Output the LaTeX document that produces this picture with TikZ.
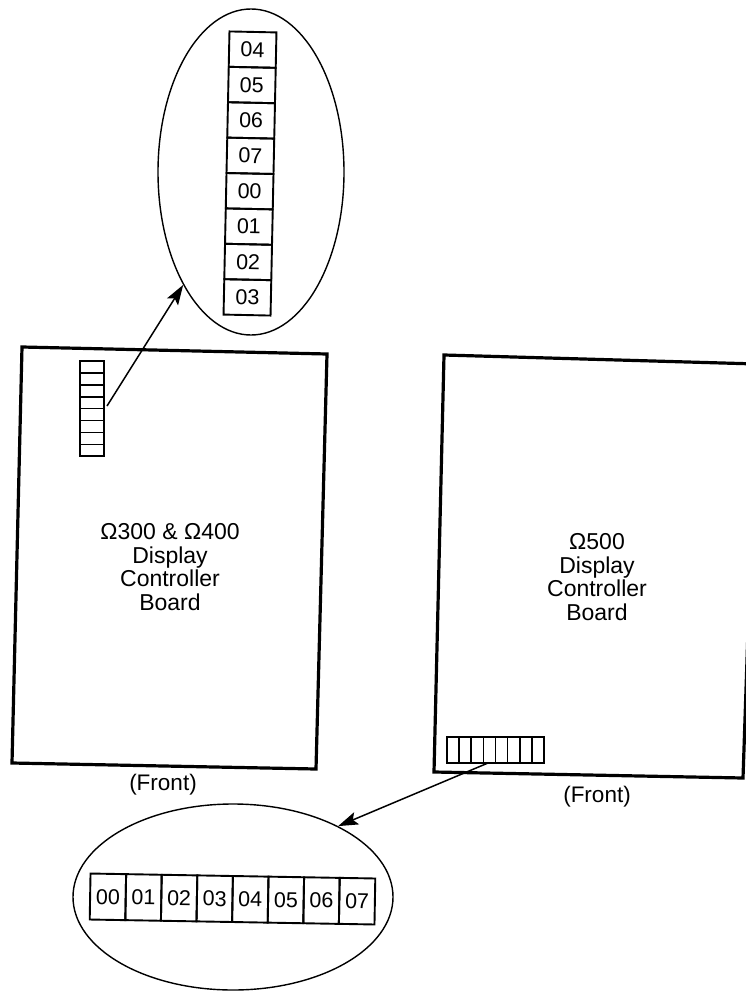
\documentclass[tikz,border=0pt]{standalone}
\usepackage{fontspec}
\setmainfont{Liberation Sans}
\usetikzlibrary{arrows.meta,shapes.geometric}
\begin{document}
\begin{tikzpicture}[x=1pt,y=-1pt,
  board/.style={line width=3.2pt, line join=miter},
  bigcell/.style={draw, line width=1.9pt, inner sep=0pt, font=\fontsize{21.5}{23}\selectfont},
  vcell/.style={bigcell, minimum width=47pt, minimum height=35.4pt},
  hcell/.style={bigcell, minimum width=35.6pt, minimum height=46pt},
  smallv/.style={draw, line width=1.6pt, inner sep=0pt, minimum width=24pt, minimum height=11.9pt},
  smallh/.style={draw, line width=1.6pt, inner sep=0pt, minimum width=12.1pt, minimum height=26pt},
  zoomell/.style={draw, ellipse, line width=1.4pt, inner sep=0pt},
  boardtext/.style={align=center, font=\fontsize{23}{23.5}\selectfont},
  fronttext/.style={font=\fontsize{22.5}{24}\selectfont},
  pointer/.style={line width=1.5pt, -{Stealth[length=20pt,width=13pt,inset=4pt]}}
]
\useasboundingbox (0,0) rectangle (746,992);
\clip (0,0) rectangle (746,992);
\fill[white] (0,0) rectangle (746,992);

% boards
\draw[board] (22,347) -- (327,354) -- (316,769) -- (12,763) -- cycle;
\draw[board] (444,355) -- (757,364) -- (743,778) -- (434,772) -- cycle;

\node[boardtext] (lbtext) at (170,567) {Ω300 \& Ω400\\Display\\Controller\\Board};
\node[boardtext] (rbtext) at (597,577) {Ω500\\Display\\Controller\\Board};
\node[fronttext] (lfront) at (163,785) {(Front)};
\node[fronttext] (rfront) at (597,797) {(Front)};

% small switches on boards
\foreach \k in {0,...,7}
  \node[smallv] (ls\k) at (92,{367+\k*11.9}) {};
\foreach \k in {0,...,7}
  \node[smallh] (rs\k) at ({453.05+\k*12.12},750) {};

% zoom ellipses
\node[zoomell, minimum width=186pt, minimum height=326pt] (topell) at (251,172) {};
\node[zoomell, minimum width=320pt, minimum height=186pt] (botell) at (233,897) {};

% enlarged vertical switch
\begin{scope}[shift={(250,173.5)}, rotate=-1.2, transform shape]
  \foreach \lab [count=\k from 0] in {04,05,06,07,00,01,02,03}
    \node[vcell] (tc\k) at (0,{(\k-3.5)*35.4}) {\lab};
\end{scope}

% enlarged horizontal switch
\begin{scope}[shift={(232.5,899)}, rotate=-1, transform shape]
  \foreach \lab [count=\k from 0] in {00,01,02,03,04,05,06,07}
    \node[hcell] (bc\k) at ({(\k-3.5)*35.6},0) {\lab};
\end{scope}

% pointers
\coordinate (lstart) at (107,406);
\coordinate (rstart) at (488,763);
\draw[pointer] (lstart) -- (topell.239);
\draw[pointer] (rstart) -- (botell.34);
\end{tikzpicture}
\end{document}
